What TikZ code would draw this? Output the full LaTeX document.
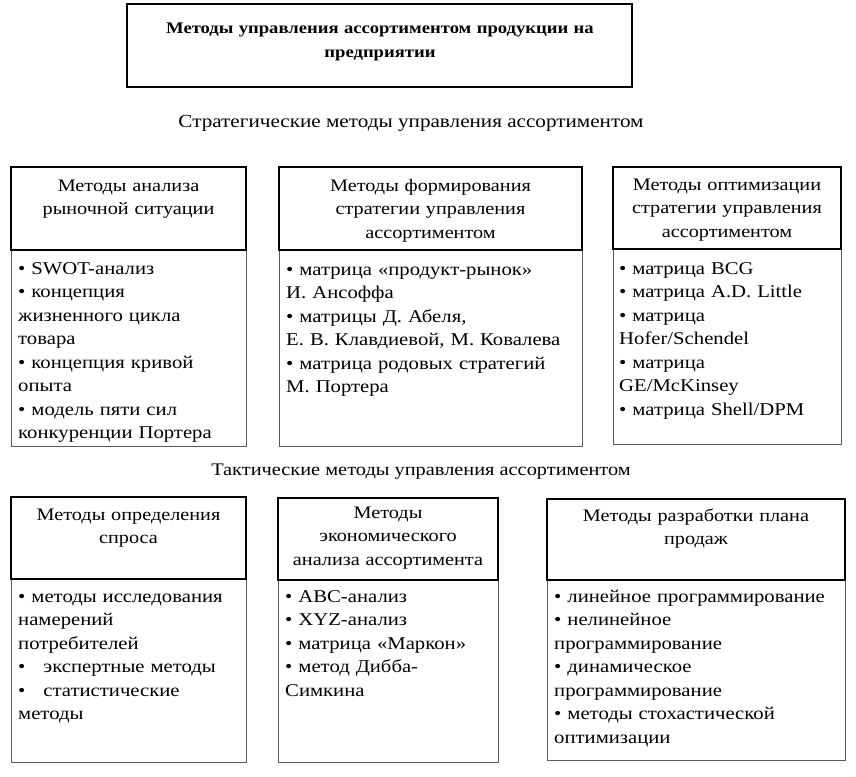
\documentclass[tikz,border=0pt]{standalone}
\usepackage{fontspec}
\setmainfont[FakeStretch=1.15]{Liberation Serif}
\begin{document}
\begin{tikzpicture}[x=1pt,y=-1pt,
  hdrbox/.style={draw=black,line width=1.3pt,inner sep=0pt},
  bodybox/.style={draw=black!65,line width=0.9pt,inner sep=0pt},
  titlebox/.style={draw=black,line width=1.3pt,inner sep=0pt},
  hdrtext/.style={anchor=base,inner sep=0pt,align=center,font=\fontsize{17.6}{23.5}\selectfont},
  bodytext/.style={anchor=base west,inner sep=0pt,align=left,font=\fontsize{18}{23.5}\selectfont},
  titletext/.style={anchor=base,inner sep=0pt,align=center,text width=490pt,font=\bfseries\fontsize{16.2}{24}\selectfont},
  captext/.style={anchor=base,inner sep=0pt,font=\fontsize{18.4}{23.5}\selectfont}]
\useasboundingbox (0,0) rectangle (856,776);
\fill[white] (0,0) rectangle (856,776);

% title
\draw[titlebox] (127,4) rectangle (632,87);
\node[titletext] (title) at (380,34) {Методы управления ассортиментом продукции на\\предприятии};

\node[captext] (strat) at (411,127) {Стратегические методы управления ассортиментом};
\node[captext,font=\fontsize{17.7}{23.5}\selectfont] (tact) at (421,475) {Тактические методы управления ассортиментом};

% box 1
\draw[bodybox] (11,250) rectangle (246,446);
\draw[hdrbox] (11,167) rectangle (246,250);
\node[hdrtext,text width=228pt] (h1) at (128.5,191) {Методы анализа\\рыночной ситуации};
\node[bodytext,text width=228pt] (b1) at (18,274) {• SWOT-анализ\\• концепция\\жизненного цикла\\товара\\• концепция кривой\\опыта\\• модель пяти сил\\конкуренции Портера};

% box 2
\draw[bodybox] (279,250) rectangle (582,446);
\draw[hdrbox] (279,167) rectangle (582,250);
\node[hdrtext,text width=296pt] (h2) at (430.5,191) {Методы формирования\\стратегии управления\\ассортиментом};
\node[bodytext,text width=292pt] (b2) at (286,275) {• матрица «продукт-рынок»\\И. Ансоффа\\• матрицы Д. Абеля,\\Е. В. Клавдиевой, М. Ковалева\\• матрица родовых стратегий\\М. Портера};

% box 3
\draw[bodybox] (613,249) rectangle (841,444);
\draw[hdrbox] (613,167) rectangle (841,249);
\node[hdrtext,text width=224pt] (h3) at (727,190) {Методы оптимизации\\стратегии управления\\ассортиментом};
\node[bodytext,text width=220pt] (b3) at (619,274) {• матрица BCG\\• матрица A.D. Little\\• матрица\\Hofer/Schendel\\• матрица\\GE/McKinsey\\• матрица Shell/DPM};

% box 4
\draw[bodybox] (11,579) rectangle (246,762);
\draw[hdrbox] (11,497) rectangle (246,579);
\node[hdrtext,text width=228pt] (h4) at (128.5,520) {Методы определения\\спроса};
\node[bodytext,text width=228pt] (b4) at (18,602) {• методы исследования\\намерений\\потребителей\\•\hspace{1em}экспертные методы\\•\hspace{1em}статистические\\методы};

% box 5
\draw[bodybox] (278,580) rectangle (498,762);
\draw[hdrbox] (278,498) rectangle (498,580);
\node[hdrtext,text width=216pt] (h5) at (388,518) {Методы\\экономического\\анализа ассортимента};
\node[bodytext,text width=210pt] (b5) at (285,602) {• ABC-анализ\\• XYZ-анализ\\• матрица «Маркон»\\• метод Дибба-\\Симкина};

% box 6
\draw[bodybox] (547,580) rectangle (845,760);
\draw[hdrbox] (547,499) rectangle (845,580);
\node[hdrtext,text width=292pt] (h6) at (696,521) {Методы разработки плана\\продаж};
\node[bodytext,text width=290pt] (b6) at (554,602) {• линейное программирование\\• нелинейное\\программирование\\• динамическое\\программирование\\• методы стохастической\\оптимизации};
\end{tikzpicture}
\end{document}
